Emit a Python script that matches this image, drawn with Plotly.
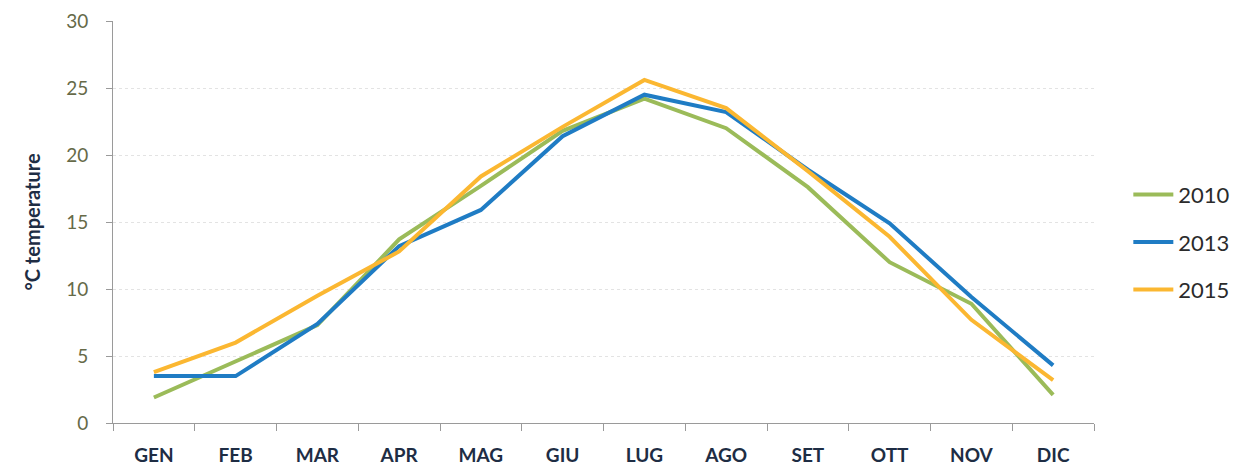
import plotly.graph_objects as go

# Monthly mean temperatures (°C)
months = ["GEN", "FEB", "MAR", "APR", "MAG", "GIU", "LUG", "AGO", "SET", "OTT", "NOV", "DIC"]
t2010 = [1.9, 4.6, 7.3, 13.7, 17.7, 21.8, 24.2, 22.0, 17.6, 12.0, 8.9, 2.1]
t2013 = [3.5, 3.5, 7.4, 13.2, 15.9, 21.4, 24.5, 23.2, 18.9, 14.9, 9.4, 4.3]
t2015 = [3.8, 6.0, 9.5, 12.8, 18.4, 22.1, 25.6, 23.5, 18.8, 13.9, 7.7, 3.2]

series = [
    ("2010", t2010, "#9BBB59"),
    ("2013", t2013, "#1F7CC4"),
    ("2015", t2015, "#FBB731"),
]

fig = go.Figure()
for name, vals, color in series:
    fig.add_trace(go.Scatter(
        x=months, y=vals, name=name, mode="lines",
        legendgroup=name,
        line=dict(color=color, width=4),
    ))

fig.update_layout(
    width=1251, height=470,
    margin=dict(l=113, r=157, t=21, b=47),
    paper_bgcolor="white", plot_bgcolor="white",
    font=dict(family="Lato, Open Sans, sans-serif"),
    showlegend=True,
    legend=dict(
        x=1.035, y=0.45, xanchor="left", yanchor="middle",
        font=dict(size=22, color="#2b2b2b", family="Lato, sans-serif"),
        tracegroupgap=16, itemwidth=40,
        bgcolor="rgba(0,0,0,0)",
    ),
)

fig.update_xaxes(
    type="category",
    range=[-0.5, len(months) - 0.5],
    tickson="boundaries",
    automargin=False,
    ticks="outside", ticklen=7, tickcolor="#9a9a9a", tickwidth=1,
    showline=True, linecolor="#9a9a9a", linewidth=1,
    showgrid=False,
    tickfont=dict(size=19, color="#1e2d44", family="Lato, sans-serif", weight="bold"),
    ticklabelstandoff=15,
)

fig.update_yaxes(
    range=[0, 30], dtick=5,
    automargin=False,
    ticks="outside", ticklen=6, tickcolor="#9a9a9a", tickwidth=1,
    showline=True, linecolor="#9a9a9a", linewidth=1,
    showgrid=True, gridcolor="#e3e3e3", griddash="dot", gridwidth=1,
    zeroline=False,
    tickfont=dict(size=19, color="#666a48", family="Lato, sans-serif"),
    ticklabelstandoff=14,
    title=dict(
        text="°C temperature", standoff=20,
        font=dict(size=20, color="#1e2d44", family="Lato, sans-serif", weight="bold"),
    ),
)

fig.write_html("out.html")
